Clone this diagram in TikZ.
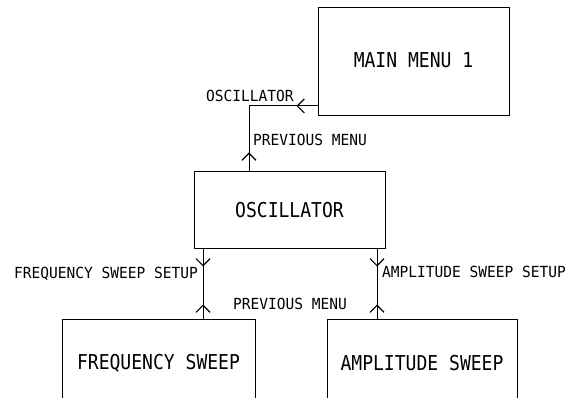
\documentclass[tikz,border=0pt]{standalone}
\usepackage{fontspec}
\usetikzlibrary{arrows.meta,decorations.markings}
\newfontfamily\lblfont[FakeStretch=0.95]{DejaVu Sans Mono}
\newfontfamily\bxfont[FakeStretch=0.88]{DejaVu Sans Mono}
\tikzset{barbtip/.tip={Straight Barb[length=7pt,width=14pt,line width=1.2pt]}}
\begin{document}
\begin{tikzpicture}[x=1pt,y=-1pt,
  box/.style={draw,line width=1pt,inner sep=0pt,font=\bxfont\fontsize{20.5}{24}\selectfont},
  lbl/.style={inner sep=0pt,font=\lblfont\fontsize{15.3}{17}\selectfont},
  wire/.style={line width=1pt}]
\useasboundingbox (0,0) rectangle (571,398);
\clip (0,0) rectangle (571,398);
\node[box,minimum width=191pt,minimum height=108pt] (main) at (413.5,62) {\raisebox{3pt}{MAIN MENU 1}};
\node[box,minimum width=191pt,minimum height=77pt] (osc) at (289.5,210.5) {OSCILLATOR};
\node[box,minimum width=193pt,minimum height=86pt] (freq) at (158.5,363) {FREQUENCY SWEEP};
\node[box,minimum width=190pt,minimum height=86pt] (amp) at (422,363) {AMPLITUDE SWEEP};
\coordinate (c1) at (249,106);
\coordinate (fx) at (203,0);
\coordinate (ax) at (377,0);
\draw[wire,postaction={decorate},decoration={markings,
   mark=at position 21pt with {\arrow{barbtip}},
   mark=at position -19pt with {\arrowreversed{barbtip}}}]
  (main.west |- c1) -- (c1) -- (c1 |- osc.north);
\draw[wire,postaction={decorate},decoration={markings,
   mark=at position 17pt with {\arrow{barbtip}},
   mark=at position -15pt with {\arrowreversed{barbtip}}}]
  (osc.south -| fx) -- (freq.north -| fx);
\draw[wire,postaction={decorate},decoration={markings,
   mark=at position 17pt with {\arrow{barbtip}},
   mark=at position -15pt with {\arrowreversed{barbtip}}}]
  (osc.south -| ax) -- (amp.north -| ax);
\node[lbl,anchor=base west] (l1) at (206,102) {OSCILLATOR};
\node[lbl,anchor=base west] (l2) at (253,146) {PREVIOUS MENU};
\node[lbl,anchor=base east] (l3) at (198,279) {FREQUENCY SWEEP SETUP};
\node[lbl,anchor=base west] (l4) at (233,310) {PREVIOUS MENU};
\node[lbl,anchor=base west] (l5) at (382,278) {AMPLITUDE SWEEP SETUP};
\end{tikzpicture}
\end{document}
